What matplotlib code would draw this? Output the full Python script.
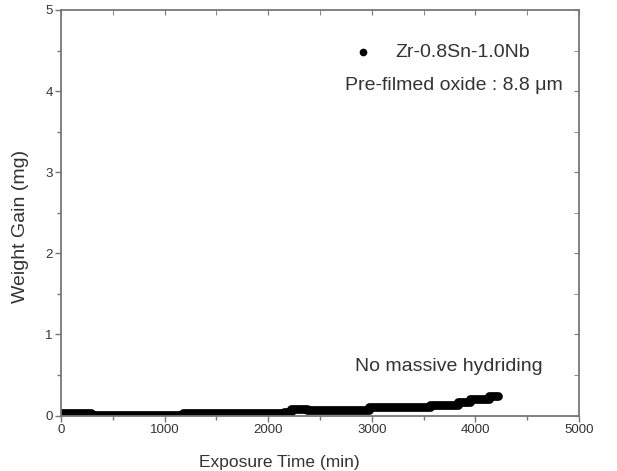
import matplotlib
matplotlib.use("Agg")
import matplotlib.pyplot as plt
from matplotlib.ticker import MultipleLocator

plt.rcParams['font.family'] = ['Liberation Sans', 'DejaVu Sans']

# step data (time in min, weight gain in mg)
step_time = [0, 290, 1180, 2150, 2220, 2370, 2970, 3560, 3830, 3950, 4130, 4215]
step_gain = [0.035, 0.005, 0.03, 0.045, 0.08, 0.065, 0.105, 0.135, 0.165, 0.2, 0.235, 0.235]
x_ticks = [0, 1000, 2000, 3000, 4000, 5000]
y_ticks = [0, 1, 2, 3, 4, 5]

fig = plt.figure(figsize=(6.17, 4.71), dpi=100)
ax = fig.add_axes([0.0989, 0.1178, 0.8395, 0.861])

ax.plot(step_time, step_gain, drawstyle='steps-post', color='black', lw=6.3,
        solid_capstyle='round', solid_joinstyle='round')

ax.set_xlim(0, 5000)
ax.set_ylim(0, 5)
ax.set_xticks(x_ticks)
ax.set_yticks(y_ticks)
ax.xaxis.set_minor_locator(MultipleLocator(500))
ax.yaxis.set_minor_locator(MultipleLocator(0.5))

frame_col = '#777777'
for s in ax.spines.values():
    s.set_color(frame_col)
    s.set_linewidth(1.3)

ax.tick_params(which='both', direction='out', color=frame_col, width=1.0,
               labelsize=9.5, labelcolor='#333333', pad=2)
ax.tick_params(which='major', length=4)
ax.tick_params(which='minor', length=3)

# inward ticks on top and right
axt = ax.secondary_xaxis('top')
axt.set_xticks(x_ticks)
axt.xaxis.set_minor_locator(MultipleLocator(500))
axt.tick_params(which='both', direction='in', color=frame_col, labeltop=False, length=3.5)
axt.spines['top'].set_visible(False)
axr = ax.secondary_yaxis('right')
axr.set_yticks(y_ticks)
axr.yaxis.set_minor_locator(MultipleLocator(0.5))
axr.tick_params(which='both', direction='in', color=frame_col, labelright=False, length=3.5)
axr.spines['right'].set_visible(False)

fig.text(279 / 617, 1 - 455 / 471, 'Exposure Time (min)', fontsize=12.5,
         color='#333333', ha='center', va='top')
fig.text(21 / 617, 1 - 226 / 471, 'Weight Gain (mg)', fontsize=14, rotation=90,
         color='#333333', ha='center', va='center')

ax.plot([2911], [4.48], 'o', color='black', ms=4.5)
ax.text(0.645, 0.896, 'Zr-0.8Sn-1.0Nb', transform=ax.transAxes, fontsize=14,
        color='#333333', va='center', ha='left')
ax.text(0.969, 0.815, 'Pre-filmed oxide : 8.8 \u03bcm', transform=ax.transAxes, fontsize=14,
        color='#333333', va='center', ha='right')
ax.text(0.930, 0.12, 'No massive hydriding', transform=ax.transAxes, fontsize=14,
        color='#333333', va='center', ha='right')

fig.savefig('out.png', dpi=100)
